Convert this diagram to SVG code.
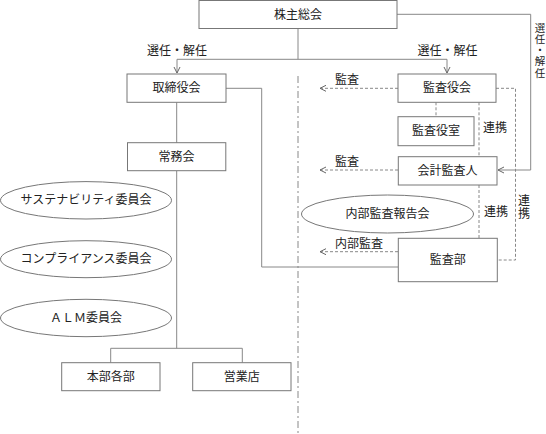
<svg xmlns="http://www.w3.org/2000/svg" width="546" height="434" viewBox="0 0 546 434">
<style>
.box{fill:#fff;stroke:#777;stroke-width:1}
.ell{fill:#fff;stroke:#777;stroke-width:1}
.t{font-family:"Liberation Serif","Noto Sans CJK JP",serif;font-size:12px;fill:#222;text-anchor:middle;dominant-baseline:central}
.v{font-size:10.5px}
.ln{fill:none;stroke:#888;stroke-width:1}
.dash{fill:none;stroke:#888;stroke-width:1;stroke-dasharray:3 2}
.axis{fill:none;stroke:#888;stroke-width:1;stroke-dasharray:7 3 2 3}
</style>
<defs>
<marker id="arr" viewBox="0 0 8 8" refX="7" refY="4" markerWidth="8" markerHeight="8" markerUnits="userSpaceOnUse" orient="auto">
<path d="M1,1 L7,4 L1,7" fill="none" stroke="#666" stroke-width="1"/>
</marker>
</defs>
<rect width="546" height="434" fill="#fff"/>
<g id="connectors">
<line class="axis" x1="298" y1="76" x2="298" y2="434"/>
<path class="ln" d="M298,28.5 V59.3"/>
<path class="ln" d="M177,59.3 H447"/>
<path class="ln" d="M177,59.3 V73" marker-end="url(#arr)"/>
<path class="ln" d="M447,59.3 V73" marker-end="url(#arr)"/>
<path class="ln" d="M397,14.3 H530.7 V170 H498" marker-end="url(#arr)"/>
<path class="ln" d="M176.7,102.3 V143"/>
<path class="ln" d="M176.7,171 V348.3"/>
<path class="ln" d="M110.7,362.7 V348.3 H242.3 V362.7"/>
<path class="ln" d="M226,88.3 H261.7 V267 H398"/>
<path class="dash" d="M398,88.3 H320" marker-end="url(#arr)"/>
<path class="dash" d="M398,170 H320" marker-end="url(#arr)"/>
<path class="dash" d="M398,251.7 H320" marker-end="url(#arr)"/>
<path class="dash" d="M436,102.3 V116.7" stroke="#aaa"/>
<path class="dash" d="M479,102.3 V156.7"/>
<path class="dash" d="M479,185 V238.3"/>
<path class="dash" d="M496,88.3 H515.5 V260 H497.3"/>
</g>
<g id="n-kabunushi"><rect class="box" x="199" y="0.5" width="198" height="28"/><text class="t" x="298" y="15">株主総会</text></g>
<g id="l-sennin1"><text class="t" x="177" y="51">選任・解任</text></g>
<g id="l-sennin2"><text class="t" x="447.5" y="51">選任・解任</text></g>
<g id="l-sennin3"><text class="t v" x="540"><tspan x="540" y="27.5">選</tspan><tspan x="540" y="38.8">任</tspan><tspan x="540" y="50.1">・</tspan><tspan x="540" y="61.4">解</tspan><tspan x="540" y="72.7">任</tspan></text></g>
<g id="n-torishimariyaku"><rect class="box" x="127" y="74" width="99" height="28.3"/><text class="t" x="176.5" y="88.3">取締役会</text></g>
<g id="n-kansayakukai"><rect class="box" x="398" y="74" width="98" height="28.3"/><text class="t" x="447" y="88.3">監査役会</text></g>
<g id="n-kansayakushitsu"><rect class="box" x="398" y="116.7" width="76" height="29"/><text class="t" x="436" y="131.2">監査役室</text></g>
<g id="n-kaikei"><rect class="box" x="398.3" y="156.7" width="98.7" height="28.3"/><text class="t" x="447.6" y="171">会計監査人</text></g>
<g id="n-kansabu"><rect class="box" x="398.3" y="238.3" width="99" height="43.4"/><text class="t" x="447.8" y="260">監査部</text></g>
<g id="n-naibu"><ellipse class="ell" cx="387.5" cy="214" rx="86" ry="19"/><text class="t" x="387.5" y="214">内部監査報告会</text></g>
<g id="n-jomu"><rect class="box" x="127.5" y="142.7" width="98.3" height="28"/><text class="t" x="176.6" y="156.7">常務会</text></g>
<g id="n-sustain"><ellipse class="ell" cx="86" cy="200.3" rx="85.5" ry="18.7"/><text class="t" x="86" y="200.3">サステナビリティ委員会</text></g>
<g id="n-compliance"><ellipse class="ell" cx="86" cy="259.2" rx="85.5" ry="18.5"/><text class="t" x="86" y="259.2">コンプライアンス委員会</text></g>
<g id="n-alm"><ellipse class="ell" cx="86" cy="318" rx="85.5" ry="18.7"/><text class="t" x="86" y="318">ＡＬＭ委員会</text></g>
<g id="n-honbu"><rect class="box" x="61.7" y="362.7" width="98.3" height="28"/><text class="t" x="110.8" y="376.7">本部各部</text></g>
<g id="n-eigyo"><rect class="box" x="192.7" y="362.7" width="98.3" height="28"/><text class="t" x="241.8" y="376.7">営業店</text></g>
<g id="labels">
<text class="t" x="347" y="80">監査</text>
<text class="t" x="347" y="162">監査</text>
<text class="t" x="359" y="243.5">内部監査</text>
<text class="t" x="495" y="128">連携</text>
<text class="t" x="496" y="212">連携</text>
<text class="t" x="524"><tspan x="524" y="201">連</tspan><tspan x="524" y="214">携</tspan></text>
</g>
</svg>
